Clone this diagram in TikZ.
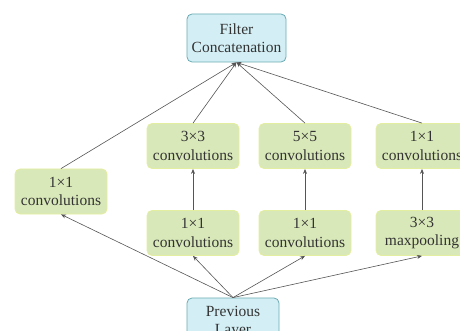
\documentclass[tikz,border=0pt]{standalone}
\usepackage{fontspec}
\setmainfont{Liberation Serif}
\usetikzlibrary{arrows.meta}
\definecolor{gfill}{HTML}{D8E8B8}
\definecolor{gdraw}{HTML}{E4EEA0}
\definecolor{bfill}{HTML}{D3EFF5}
\definecolor{bdraw}{HTML}{6AA9B3}
\definecolor{txt}{HTML}{333333}
\definecolor{arr}{HTML}{555555}
\tikzset{
  gbox/.style={draw=gdraw, fill=gfill, line width=0.8pt, rounded corners=5pt,
    minimum width=92pt, minimum height=45pt, inner sep=0pt, align=center,
    font=\fontsize{15.5}{18.3}\selectfont, text=txt},
  bbox/.style={gbox, draw=bdraw, fill=bfill, minimum height=48pt},
  conn/.style={draw=arr, line width=0.6pt, -{Stealth[length=5pt,width=4pt]}}
}
\begin{document}
\begin{tikzpicture}[x=1pt,y=-1pt]
\useasboundingbox (0,0) rectangle (460,331);
\node[bbox, minimum width=99pt] (fc) at (236.5,38) {Filter\\Concatenation};
\node[gbox] (l1) at (61,191.5) {1×1\\convolutions};
\node[gbox] (t3) at (193,146) {3×3\\convolutions};
\node[gbox] (t5) at (305,146) {5×5\\convolutions};
\node[gbox] (t1) at (422,146) {1×1\\convolutions};
\node[gbox] (b1) at (193,233) {1×1\\convolutions};
\node[gbox] (b2) at (305,233) {1×1\\convolutions};
\node[gbox] (mp) at (422,233) {3×3\\maxpooling};
\node[bbox] (pl) at (233,322) {Previous\\Layer};
\draw[conn] (l1.north) -- (fc.south);
\draw[conn] (t3.north) -- (fc.south);
\draw[conn] (t5.north) -- (fc.south);
\draw[conn] (t1.north) -- (fc.south);
\draw[conn] (b1.north) -- (t3.south);
\draw[conn] (b2.north) -- (t5.south);
\draw[conn] (mp.north) -- (t1.south);
\draw[conn] (pl.north) -- (l1.south);
\draw[conn] (pl.north) -- (b1.south);
\draw[conn] (pl.north) -- (b2.south);
\draw[conn] (pl.north) -- (mp.south);
\end{tikzpicture}
\end{document}
